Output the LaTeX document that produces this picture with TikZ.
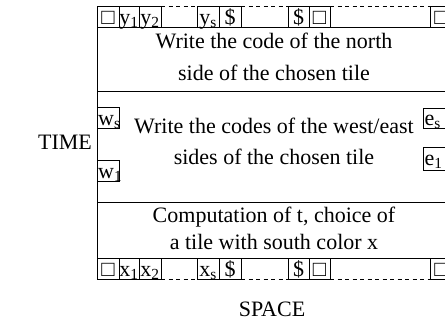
\documentclass[tikz,border=0pt]{standalone}
\usepackage{fontspec}
\setmainfont{Liberation Serif}
\newcommand\sqbox{□}
\tikzset{
  x=1pt, y=-1pt,
  mainline/.style={line width=0.8pt, black},
  cellline/.style={line width=0.4pt, black},
  dashline/.style={line width=0.4pt, black, dash pattern=on 4pt off 3.5pt},
  txt/.style={font=\fontsize{22}{26}\selectfont, inner sep=0pt, anchor=base},
  lbl/.style={font=\fontsize{22}{26}\selectfont, inner sep=0pt, anchor=base west},
}
\begin{document}
\begin{tikzpicture}
\useasboundingbox (0,0) rectangle (445,322);
\clip (0,0) rectangle (445,322);
% main frame
\draw[mainline] (97,6) -- (97,279);
\foreach \yy in {27,91,202,258} \draw[mainline] (97,\yy) -- (460,\yy);
% top row
\foreach \a/\b/\t [count=\i] in {97/119/\sqbox, 119/139/{y\textsubscript{1}}, 139/161/{y\textsubscript{2}}, 197/219/{y\textsubscript{s}}, 219/241/\$, 288/309/\$, 309/330/\sqbox, 430/452/\sqbox}{
  \draw[cellline] (\a,6) rectangle (\b,27);
  \node[txt] (t\i) at ({(\a+\b)/2},24) {\t};
}
\foreach \a/\b in {161/197, 241/288, 330/430} \draw[dashline] (\a,6) -- (\b,6);
% bottom row
\foreach \a/\b/\t [count=\i] in {97/119/\sqbox, 119/139/{x\textsubscript{1}}, 139/161/{x\textsubscript{2}}, 197/219/{x\textsubscript{s}}, 219/241/\$, 288/309/\$, 309/330/\sqbox, 430/452/\sqbox}{
  \draw[cellline] (\a,258) rectangle (\b,279);
  \node[txt] (b\i) at ({(\a+\b)/2},276) {\t};
}
\foreach \a/\b in {161/197, 241/288, 330/430} \draw[dashline] (\a,279) -- (\b,279);
% side boxes
\draw[cellline] (97,107) rectangle (119,128);
\node[lbl] (ws) at (98,125) {w\textsubscript{s}};
\draw[cellline] (97,160) rectangle (119,181);
\node[lbl] (w1) at (98,178) {w\textsubscript{1}};
\draw[cellline] (423,108) rectangle (451,128);
\node[lbl] (es) at (424.5,125) {e\textsubscript{s}};
\draw[cellline] (423,147) rectangle (451,170);
\node[lbl] (e1) at (424.5,165) {e\textsubscript{1}};
% texts
\node[txt] (l1) at (274,48) {Write the code of the north};
\node[txt] (l2) at (274,80) {side of the chosen tile};
\node[txt] (l3) at (274,133) {Write the codes of the west/east};
\node[txt] (l4) at (274,164) {sides of the chosen tile};
\node[txt] (l5) at (274,222) {Computation of t, choice of};
\node[txt] (l6) at (274,249) {a tile with south color x};
\node[txt] (time) at (65,149) {TIME};
\node[txt] (space) at (272,316) {SPACE};
\end{tikzpicture}
\end{document}
